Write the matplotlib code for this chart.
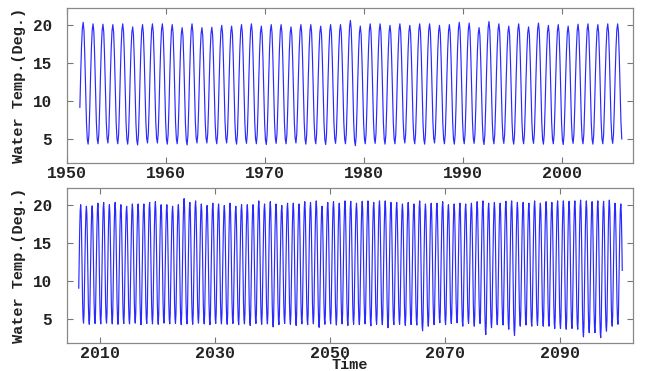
import numpy as np
import matplotlib
matplotlib.use("Agg")
import matplotlib.pyplot as plt

# ---- data ----
# monthly seasonal profile (Jan..Dec), normalised between trough (0) and peak (1)
season_shape = [0.04, 0.0, 0.08, 0.30, 0.57, 0.80, 0.95, 1.0, 0.93, 0.72, 0.45, 0.18]

top_years = list(range(1951, 2006))          # years with a summer peak
top_peaks = [20.3, 20.1, 20.05, 20.0, 20.1, 19.7, 20.0, 20.1, 20.1, 20.0,
             19.6, 20.1, 19.6, 19.65, 19.9, 19.8, 20.0, 20.1, 19.8, 20.0,
             20.0, 19.7, 20.0, 20.0, 19.8, 20.0, 20.0, 20.55, 19.8, 20.1,
             20.1, 19.9, 20.1, 19.9, 20.1, 20.1, 19.9, 20.0, 20.3, 20.2,
             19.6, 20.4, 20.1, 19.8, 20.1, 19.7, 20.2, 19.9, 20.0, 19.8,
             20.05, 20.1, 20.0, 20.1, 20.1]
# winter troughs 1951..2006
top_troughs = [4.4, 4.35, 4.4, 4.5, 4.4, 4.35, 4.25, 4.5, 4.5, 4.35,
               4.4, 4.25, 4.5, 4.5, 4.4, 4.5, 4.35, 4.45, 4.4, 4.3,
               4.45, 4.4, 4.5, 4.35, 4.4, 4.3, 4.45, 4.4, 4.15, 4.4,
               4.45, 4.35, 4.4, 4.5, 4.4, 4.35, 4.5, 4.4, 4.35, 4.4,
               4.45, 4.3, 4.4, 4.45, 4.35, 4.4, 4.45, 4.35, 4.4, 4.3,
               4.45, 4.4, 4.35, 4.4, 4.45, 4.4]

bot_years = list(range(2006, 2101))
bot_peaks = [20.0, 19.8, 19.85, 20.2, 20.3, 20.0, 20.3, 20.0, 19.8, 20.1,
             20.1, 20.1, 20.3, 20.4, 20.0, 20.0, 19.8, 20.0, 20.8, 20.3,
             20.5, 20.1, 19.9, 20.2, 20.1, 19.9, 20.2, 19.8, 20.0, 20.0,
             20.0, 20.5, 20.1, 20.4, 20.1, 19.9, 20.2, 20.2, 20.1, 20.4,
             20.3, 20.5, 19.8, 20.3, 20.4, 20.2, 20.5, 20.45, 20.2, 20.45,
             20.5, 20.3, 20.5, 20.5, 20.3, 20.3, 20.1, 20.3, 20.1, 20.5,
             20.1, 20.2, 20.2, 20.4, 20.0, 20.1, 20.2, 20.1, 20.2, 20.4,
             20.5, 20.2, 20.3, 20.2, 20.45, 20.5, 20.3, 20.3, 20.2, 20.5,
             20.2, 20.4, 20.3, 20.5, 20.5, 20.45, 20.5, 20.6, 20.5, 20.4,
             20.5, 20.45, 20.6, 20.2, 20.1]
# winter troughs 2006..2101
bot_troughs = [4.4, 4.5, 4.35, 4.45, 4.4, 4.5, 4.4, 4.35, 4.45, 4.4,
               4.5, 4.3, 4.45, 4.4, 4.35, 4.5, 4.4, 4.45, 4.3, 4.4,
               4.35, 4.5, 4.4, 4.3, 4.45, 4.4, 4.35, 4.45, 4.3, 4.4,
               4.2, 4.45, 4.35, 4.4, 4.0, 4.3, 4.45, 4.35, 4.2, 4.4,
               4.3, 4.4, 3.95, 4.35, 4.4, 4.25, 4.4, 4.2, 4.35, 4.3,
               4.4, 4.15, 4.35, 4.3, 3.9, 4.3, 4.35, 4.2, 4.3, 4.25,
               3.5, 4.1, 4.3, 4.55, 4.3, 4.45, 4.55, 4.1, 4.45, 4.1,
               4.45, 3.0, 3.9, 4.3, 4.25, 3.7, 2.9, 4.1, 4.25, 4.1,
               4.2, 4.1, 4.1, 3.8, 3.8, 3.7, 3.8, 3.7, 2.7, 3.25,
               3.25, 2.6, 3.45, 4.1, 4.35, 4.3]

top_xticks = [1950, 1960, 1970, 1980, 1990, 2000]
bot_xticks = [2010, 2030, 2050, 2070, 2090]
yticks = [5, 10, 15, 20]


def monthly_series(years, peaks, troughs, start, end):
    P = dict(zip(years, peaks))
    T = dict(zip(range(years[0], years[0] + len(troughs)), troughs))
    t, v = [], []
    y, m = start
    while (y, m) <= end:
        if m <= 1:
            lo, hi = T[y], P[y - 1]
        elif m <= 7:
            lo, hi = T[y], P[y]
        else:
            lo, hi = T[y + 1], P[y]
        t.append(y + (m + 0.5) / 12.0)
        v.append(lo + (hi - lo) * season_shape[m])
        m += 1
        if m == 12:
            m = 0
            y += 1
    return np.array(t), np.array(v)


t_top, v_top = monthly_series(top_years, top_peaks, top_troughs, (1951, 3), (2006, 0))
t_bot, v_bot = monthly_series(bot_years, bot_peaks, bot_troughs, (2006, 3), (2100, 10))

font = "Liberation Mono"
fig = plt.figure(figsize=(6.45, 3.71), dpi=100)
ax1 = fig.add_axes([0.104, 0.561, 0.877, 0.418])
ax2 = fig.add_axes([0.104, 0.0755, 0.877, 0.418])

for ax, t, v, xt, xl in [(ax1, t_top, v_top, top_xticks, (1950, 2007.15)),
                         (ax2, t_bot, v_bot, bot_xticks, (2004.26, 2102.7))]:
    ax.plot(t, v, color="#2a2aff", lw=0.85)
    ax.set_xlim(*xl)
    ax.set_ylim(1.9, 22.2)
    ax.set_xticks(xt)
    ax.set_yticks(yticks)
    ax.set_xticklabels([str(x) for x in xt], fontfamily=font, fontweight="bold",
                       fontsize=12, color="#222222")
    ax.set_yticklabels([str(y) for y in yticks], fontfamily=font, fontweight="bold",
                       fontsize=11.5, color="#222222")
    ax.tick_params(direction="in", top=True, right=True, length=4, width=0.8,
                   colors="#777777", labelcolor="#222222")
    ax.tick_params(axis="y", pad=11)
    ax.tick_params(axis="x", pad=2)
    for s in ax.spines.values():
        s.set_color("#888888")
        s.set_linewidth(0.9)
    ax.set_ylabel("Water Temp.(Deg.)", fontfamily=font, fontweight="bold",
                  fontsize=11, color="#222222", labelpad=5)

ax2.set_xlabel("Time", fontfamily=font, fontweight="bold", fontsize=11,
               color="#222222", va="center")
ax2.xaxis.set_label_coords(0.5, -0.142)

fig.savefig("out.png", dpi=100, facecolor="white")
